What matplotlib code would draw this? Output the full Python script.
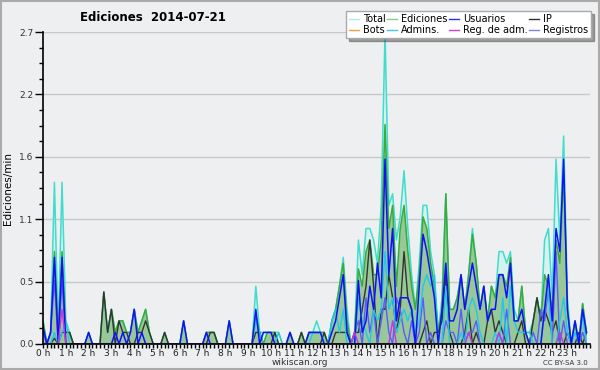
import matplotlib
matplotlib.use("Agg")
import matplotlib.pyplot as plt
import numpy as np
from matplotlib.lines import Line2D
from matplotlib.patches import Rectangle

# one value per 10 minutes, 6 per row = one hour per row (edits/min)
total = [
    0.2, 0.0, 0.1, 1.4, 0.1, 1.4,
    0.2, 0.1, 0.0, 0.0, 0.0, 0.0,
    0.1, 0.0, 0.0, 0.0, 0.45, 0.1,
    0.3, 0.1, 0.2, 0.2, 0.1, 0.1,
    0.3, 0.1, 0.2, 0.3, 0.1, 0.0,
    0.0, 0.0, 0.1, 0.0, 0.0, 0.0,
    0.0, 0.2, 0.0, 0.0, 0.0, 0.0,
    0.0, 0.1, 0.1, 0.1, 0.0, 0.0,
    0.0, 0.2, 0.0, 0.0, 0.0, 0.0,
    0.0, 0.0, 0.5, 0.1, 0.1, 0.1,
    0.1, 0.1, 0.1, 0.0, 0.0, 0.1,
    0.0, 0.0, 0.1, 0.0, 0.1, 0.1,
    0.2, 0.1, 0.1, 0.0, 0.2, 0.3,
    0.5, 0.75, 0.3, 0.0, 0.1, 0.9,
    0.6, 1.0, 1.0, 0.9, 0.7, 1.2,
    2.7, 1.2, 1.3, 0.9, 1.1, 1.5,
    1.0, 0.6, 0.3, 0.7, 1.2, 1.2,
    0.8, 0.6, 0.1, 0.4, 1.3, 0.3,
    0.3, 0.4, 0.6, 0.3, 0.6, 1.0,
    0.7, 0.3, 0.5, 0.2, 0.5, 0.4,
    0.8, 0.8, 0.7, 0.8, 0.3, 0.2,
    0.5, 0.1, 0.1, 0.2, 0.4, 0.2,
    0.9, 1.0, 0.4, 1.6, 0.9, 1.8,
    0.4, 0.0, 0.2, 0.0, 0.35, 0.1,
]
ediciones = [
    0.2, 0.0, 0.1, 0.8, 0.1, 0.8,
    0.1, 0.1, 0.0, 0.0, 0.0, 0.0,
    0.1, 0.0, 0.0, 0.0, 0.45, 0.1,
    0.3, 0.1, 0.2, 0.2, 0.1, 0.1,
    0.3, 0.1, 0.2, 0.3, 0.1, 0.0,
    0.0, 0.0, 0.1, 0.0, 0.0, 0.0,
    0.0, 0.2, 0.0, 0.0, 0.0, 0.0,
    0.0, 0.1, 0.1, 0.1, 0.0, 0.0,
    0.0, 0.2, 0.0, 0.0, 0.0, 0.0,
    0.0, 0.0, 0.25, 0.1, 0.0, 0.1,
    0.1, 0.1, 0.0, 0.0, 0.0, 0.1,
    0.0, 0.0, 0.1, 0.0, 0.1, 0.1,
    0.1, 0.1, 0.1, 0.0, 0.2, 0.3,
    0.5, 0.7, 0.2, 0.0, 0.1, 0.65,
    0.5, 0.8, 0.9, 0.6, 0.6, 0.9,
    1.9, 1.0, 1.2, 0.5, 1.0, 1.2,
    0.8, 0.5, 0.3, 0.6, 1.1, 1.0,
    0.7, 0.5, 0.1, 0.3, 1.3, 0.3,
    0.3, 0.4, 0.6, 0.3, 0.6, 0.95,
    0.7, 0.3, 0.5, 0.2, 0.5, 0.4,
    0.6, 0.6, 0.5, 0.75, 0.2, 0.2,
    0.5, 0.1, 0.0, 0.2, 0.4, 0.2,
    0.6, 0.5, 0.3, 0.9, 0.7, 1.5,
    0.3, 0.0, 0.2, 0.0, 0.35, 0.1,
]
usuarios = [
    0.15, 0.0, 0.1, 0.75, 0.0, 0.75,
    0.0, 0.0, 0.0, 0.0, 0.0, 0.0,
    0.1, 0.0, 0.0, 0.0, 0.0, 0.0,
    0.0, 0.1, 0.0, 0.1, 0.0, 0.1,
    0.3, 0.0, 0.1, 0.0, 0.0, 0.0,
    0.0, 0.0, 0.0, 0.0, 0.0, 0.0,
    0.0, 0.2, 0.0, 0.0, 0.0, 0.0,
    0.0, 0.1, 0.0, 0.0, 0.0, 0.0,
    0.0, 0.2, 0.0, 0.0, 0.0, 0.0,
    0.0, 0.0, 0.3, 0.0, 0.1, 0.1,
    0.1, 0.0, 0.0, 0.0, 0.0, 0.1,
    0.0, 0.0, 0.0, 0.0, 0.1, 0.1,
    0.1, 0.1, 0.0, 0.0, 0.1, 0.2,
    0.4, 0.6, 0.1, 0.0, 0.0, 0.55,
    0.1, 0.2, 0.5, 0.3, 0.7, 0.4,
    1.6, 0.6, 1.0, 0.2, 0.4, 0.4,
    0.4, 0.3, 0.0, 0.5, 0.95, 0.8,
    0.6, 0.4, 0.0, 0.3, 0.7, 0.2,
    0.2, 0.3, 0.6, 0.3, 0.5, 0.7,
    0.5, 0.3, 0.5, 0.2, 0.3, 0.3,
    0.6, 0.6, 0.4, 0.7, 0.2, 0.2,
    0.3, 0.1, 0.0, 0.0, 0.0, 0.0,
    0.3, 0.6, 0.2, 1.0, 0.8, 1.6,
    0.3, 0.0, 0.2, 0.0, 0.3, 0.1,
]
ip = [
    0.0, 0.0, 0.0, 0.05, 0.0, 0.1,
    0.1, 0.1, 0.0, 0.0, 0.0, 0.0,
    0.0, 0.0, 0.0, 0.0, 0.45, 0.1,
    0.3, 0.0, 0.2, 0.1, 0.1, 0.0,
    0.0, 0.1, 0.1, 0.2, 0.1, 0.0,
    0.0, 0.0, 0.1, 0.0, 0.0, 0.0,
    0.0, 0.0, 0.0, 0.0, 0.0, 0.0,
    0.0, 0.0, 0.1, 0.1, 0.0, 0.0,
    0.0, 0.0, 0.0, 0.0, 0.0, 0.0,
    0.0, 0.0, 0.1, 0.1, 0.0, 0.0,
    0.0, 0.1, 0.0, 0.0, 0.0, 0.0,
    0.0, 0.0, 0.1, 0.0, 0.0, 0.0,
    0.0, 0.0, 0.1, 0.0, 0.0, 0.1,
    0.1, 0.1, 0.1, 0.0, 0.1, 0.1,
    0.3, 0.5, 0.9, 0.5, 0.0, 0.3,
    0.3, 0.6, 0.4, 0.1, 0.3, 0.8,
    0.4, 0.3, 0.0, 0.0, 0.1, 0.2,
    0.0, 0.1, 0.1, 0.2, 0.6, 0.1,
    0.0, 0.0, 0.0, 0.1, 0.3, 0.0,
    0.1, 0.0, 0.0, 0.2, 0.3, 0.1,
    0.2, 0.1, 0.0, 0.0, 0.0, 0.1,
    0.2, 0.0, 0.0, 0.2, 0.4, 0.2,
    0.3, 0.2, 0.1, 0.2, 0.0, 0.0,
    0.1, 0.0, 0.0, 0.1, 0.0, 0.1,
]
bots = [0.0] * 144
admins = [
    0.0, 0.0, 0.0, 0.1, 0.0, 0.1,
    0.2, 0.0, 0.0, 0.0, 0.0, 0.0,
    0.0, 0.0, 0.0, 0.0, 0.0, 0.0,
    0.0, 0.0, 0.0, 0.0, 0.0, 0.0,
    0.0, 0.0, 0.0, 0.0, 0.0, 0.0,
    0.0, 0.0, 0.0, 0.0, 0.0, 0.0,
    0.0, 0.0, 0.0, 0.0, 0.0, 0.0,
    0.0, 0.0, 0.0, 0.0, 0.0, 0.0,
    0.0, 0.0, 0.0, 0.0, 0.0, 0.0,
    0.0, 0.0, 0.2, 0.1, 0.0, 0.0,
    0.0, 0.0, 0.1, 0.0, 0.0, 0.0,
    0.0, 0.0, 0.0, 0.0, 0.0, 0.1,
    0.1, 0.1, 0.0, 0.0, 0.2, 0.3,
    0.1, 0.3, 0.0, 0.0, 0.0, 0.4,
    0.2, 0.1, 0.0, 0.3, 0.2, 0.3,
    0.8, 0.3, 0.4, 0.1, 0.2, 0.3,
    0.2, 0.3, 0.1, 0.2, 0.5, 0.6,
    0.5, 0.6, 0.0, 0.0, 0.5, 0.0,
    0.0, 0.0, 0.1, 0.0, 0.3, 0.4,
    0.3, 0.1, 0.0, 0.0, 0.0, 0.1,
    0.0, 0.4, 0.0, 0.5, 0.2, 0.1,
    0.1, 0.1, 0.1, 0.0, 0.0, 0.0,
    0.3, 0.5, 0.0, 0.0, 0.2, 0.4,
    0.1, 0.0, 0.1, 0.0, 0.25, 0.0,
]
reg_adm = [0.0] * 144
for i, v in [(5, 0.3), (82, 0.1), (92, 0.2), (112, 0.1), (120, 0.1), (136, 0.1)]:
    reg_adm[i] = v
registros = [
    0.1, 0.0, 0.1, 0.55, 0.0, 0.55,
    0.0, 0.0, 0.0, 0.0, 0.0, 0.0,
    0.0, 0.0, 0.0, 0.0, 0.0, 0.0,
    0.0, 0.0, 0.0, 0.0, 0.0, 0.0,
    0.0, 0.0, 0.0, 0.0, 0.0, 0.0,
    0.0, 0.0, 0.0, 0.0, 0.0, 0.0,
    0.0, 0.0, 0.0, 0.0, 0.0, 0.0,
    0.0, 0.0, 0.0, 0.0, 0.0, 0.0,
    0.0, 0.0, 0.0, 0.0, 0.0, 0.0,
    0.0, 0.0, 0.0, 0.0, 0.0, 0.0,
    0.0, 0.0, 0.0, 0.0, 0.0, 0.0,
    0.0, 0.0, 0.0, 0.0, 0.0, 0.0,
    0.0, 0.0, 0.0, 0.0, 0.0, 0.0,
    0.0, 0.0, 0.0, 0.0, 0.1, 0.2,
    0.0, 0.4, 0.1, 0.3, 0.0, 0.2,
    0.4, 0.1, 0.0, 0.4, 0.3, 0.1,
    0.0, 0.2, 0.0, 0.1, 0.4, 0.0,
    0.1, 0.0, 0.0, 0.0, 0.2, 0.1,
    0.1, 0.0, 0.3, 0.0, 0.1, 0.1,
    0.2, 0.0, 0.0, 0.0, 0.0, 0.0,
    0.1, 0.0, 0.3, 0.0, 0.0, 0.0,
    0.0, 0.0, 0.0, 0.1, 0.0, 0.3,
    0.2, 0.5, 0.0, 0.8, 0.0, 0.2,
    0.0, 0.0, 0.0, 0.0, 0.1, 0.0,
]

hour_labels = [f"{h} h" for h in range(24)]
y_ticks = [0.0, 0.54, 1.08, 1.62, 2.16, 2.7]
y_labels = ["0.0", "0.5", "1.1", "1.6", "2.2", "2.7"]

bg = "#eeeff1"
x = np.arange(len(total)) / 6.0

fig = plt.figure(figsize=(6, 3.7), dpi=100, facecolor=bg)
ax = fig.add_axes([0.0717, 0.0703, 0.912, 0.843], facecolor=bg)

ax.fill_between(x, total, color="#d6f2ee", lw=0)
ax.fill_between(x, ediciones, color="#98c898", lw=0)
ax.plot(x, total, color="#40dccc", lw=1.1)
ax.plot(x, ediciones, color="#3aaa3a", lw=1.1)
ax.plot(x, ip, color="#333333", lw=1.0)
ax.plot(x, registros, color="#5a5aff", lw=1.0)
ax.plot(x, admins, color="#20c8e8", lw=1.0)
ax.plot(x, usuarios, color="#1010ff", lw=1.1)
ax.plot(x, reg_adm, color="#cc33dd", lw=1.0)
ax.plot(x, bots, color="#f0a040", lw=0.0)

ax.set_xlim(0, 24)
ax.set_ylim(0, 2.7)
ax.set_xticks(range(24))
ax.set_xticklabels(hour_labels, fontsize=6.5, color="#222222")
ax.set_xticks(np.arange(0, 24.01, 1 / 6), minor=True)
ax.set_yticks(y_ticks)
ax.set_yticklabels(y_labels, fontsize=6.5, color="#333333")
ax.set_yticks(np.arange(0, 2.71, 0.135), minor=True)
ax.tick_params(axis="x", which="both", direction="out", length=3, width=1, pad=0.5)
ax.tick_params(axis="y", which="major", direction="out", length=6, width=1, pad=1)
ax.tick_params(axis="y", which="minor", direction="out", length=3, width=1)
ax.grid(axis="y", which="major", color="#c8c8c8", lw=1)
ax.set_axisbelow(True)
for s in ["top", "right"]:
    ax.spines[s].set_visible(False)
for s in ["left", "bottom"]:
    ax.spines[s].set_linewidth(1.2)

ax.set_ylabel("Ediciones/min", fontsize=7.5, labelpad=4)

fig.text(0.255, 0.952, "Ediciones  2014-07-21", fontsize=8.5, fontweight="bold",
         ha="center", va="center")
fig.text(0.5, 0.02, "wikiscan.org", fontsize=6.5, ha="center", va="center", color="#333333")
fig.text(0.98, 0.02, "CC BY-SA 3.0", fontsize=5, ha="right", va="center", color="#333333")

names = ["Total", "Bots", "Ediciones", "Admins.", "Usuarios", "Reg. de adm.", "IP", "Registros"]
colors = ["#a8ece4", "#f0a040", "#88d088", "#40c8e0", "#3030e0", "#d040e0", "#303030", "#8080f0"]
handles = [Line2D([], [], color=c, lw=1) for c in colors]
leg = fig.legend(handles, names, ncol=4, loc="upper right", bbox_to_anchor=(0.985, 0.97),
                 fontsize=7, frameon=True, fancybox=False, shadow=True,
                 handlelength=1.0, handletextpad=0.4, columnspacing=0.2,
                 labelspacing=0.15, borderpad=0.3, borderaxespad=0)
leg.get_frame().set_edgecolor("#aaaaaa")
leg.get_frame().set_facecolor("white")
leg.get_frame().set_alpha(1)

fig.patches.append(Rectangle((0.0015, 0.0025), 0.997, 0.995, transform=fig.transFigure,
                             fill=False, edgecolor="#aaaaaa", lw=1.5))

fig.savefig("out.png", dpi=100, facecolor=bg)
